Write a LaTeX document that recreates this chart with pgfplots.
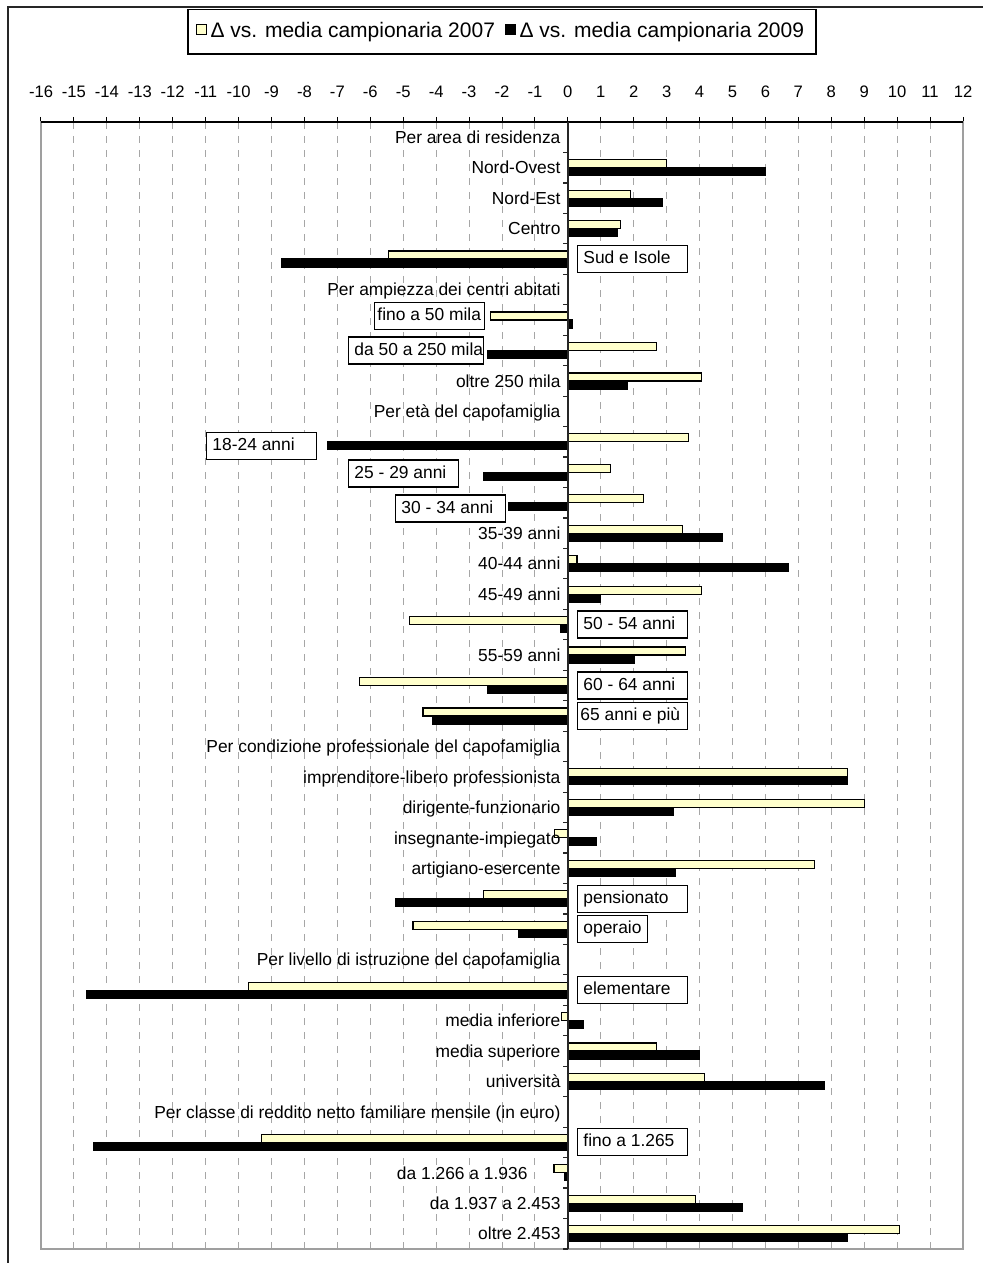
\documentclass[border=0pt]{standalone}
\usepackage{pgfplots}
\pgfplotsset{compat=1.18}
\usepackage{fontspec}
\setmainfont{Liberation Sans}
\definecolor{ycol}{RGB}{255,255,204}
\begin{document}
\begin{tikzpicture}[
  lab/.style={anchor=base east, inner sep=0pt, xshift=-3.5pt, yshift=-3.1pt, font=\fontsize{8.7}{10}\selectfont},
  bx/.style={draw=black, line width=0.6pt, fill=white, inner xsep=3pt, inner ysep=0pt,
    minimum height=13.5pt, text height=6.3pt, text depth=1.7pt, anchor=west, font=\fontsize{8.7}{10}\selectfont},
]
\useasboundingbox (0,0) rectangle (491pt,-631.5pt);
\draw[line width=0.75pt, black!85] (4pt,-640pt) -- (4pt,-3.5pt) -- (500pt,-3.5pt);
\begin{axis}[
  at={(20.5pt,-61pt)}, anchor=north west,
  scale only axis, width=461pt, height=563.5pt,
  xmin=-16, xmax=12, ymin=0.5, ymax=37.5,
  xtick={-16,-15,...,12}, ytick=\empty,
  xtick pos=right, xticklabel pos=right,
  tick align=outside, major tick length=2.5pt,
  tick style={black, line width=0.5pt},
  xticklabel style={font=\fontsize{8.3}{9}\selectfont, yshift=6pt},
  /pgf/number format/assume math mode=true,
  xmajorgrids, grid style={gray!70, line width=0.5pt, dash pattern=on 3.5pt off 3.5pt},
  axis line style={draw=gray!75, line width=0.8pt},
  clip=false,
  xbar, bar width=4pt,
  legend columns=2,
  legend style={at={(0.5,1.08)}, anchor=center, draw=black, line width=0.6pt,
    font=\fontsize{10.5}{12}\selectfont, inner xsep=4pt, inner ysep=4.5pt,
    /tikz/every even column/.append style={column sep=3pt}},
]
\addplot[fill=ycol, draw=black, line width=0.6pt, bar shift=2pt,
  legend image code/.code={\draw[fill=ycol, draw=black, line width=0.5pt] (0pt,-1.2pt) rectangle (4.8pt,3.6pt);}]
  coordinates {
  (3.0,36) (1.9,35) (1.6,34) (-5.45,33)
  (-2.35,31) (2.68,30) (4.05,29)
  (3.67,27) (1.3,26) (2.3,25) (3.48,24) (0.28,23) (4.05,22) (-4.8,21) (3.57,20) (-6.32,19) (-4.4,18)
  (8.5,16) (9.0,15) (-0.4,14) (7.5,13) (-2.55,12) (-4.7,11)
  (-9.7,9) (-0.2,8) (2.7,7) (4.15,6)
  (-9.3,4) (-0.42,3) (3.87,2) (10.08,1)
  };
\addplot[fill=black, draw=black, line width=0.6pt, bar shift=-2pt,
  legend image code/.code={\draw[fill=black, draw=black, line width=0.5pt] (0pt,-1.2pt) rectangle (4.8pt,3.6pt);}]
  coordinates {
  (6.0,36) (2.88,35) (1.5,34) (-8.7,33)
  (0.15,31) (-2.43,30) (1.82,29)
  (-7.3,27) (-2.55,26) (-1.8,25) (4.7,24) (6.7,23) (0.98,22) (-0.23,21) (2.02,20) (-2.44,19) (-4.12,18)
  (8.5,16) (3.2,15) (0.87,14) (3.28,13) (-5.24,12) (-1.5,11)
  (-14.6,9) (0.47,8) (4.0,7) (7.8,6)
  (-14.4,4) (-0.11,3) (5.3,2) (8.5,1)
  };
\legend{Δ vs. media campionaria 2007, Δ vs. media campionaria 2009}
% top axis line and y axis at zero
\draw[black, line width=0.8pt] (rel axis cs:0,1) -- (rel axis cs:1,1);
\draw[black!85, line width=0.8pt] (axis cs:0,0.5) -- (axis cs:0,37.5);
\pgfplotsinvokeforeach{1,...,37}{
  \draw[black!85, line width=0.6pt] (axis cs:0,#1-0.5) -- ++(-2.2pt,0pt);
}
% plain labels
\node[lab] at (axis cs:0,37) {Per area di residenza};
\node[lab] at (axis cs:0,36) {Nord-Ovest};
\node[lab] at (axis cs:0,35) {Nord-Est};
\node[lab] at (axis cs:0,34) {Centro};
\node[lab] at (axis cs:0,32) {Per ampiezza dei centri abitati};
\node[lab] at (axis cs:0,29) {oltre 250 mila};
\node[lab] at (axis cs:0,28) {Per età del capofamiglia};
\node[lab] at (axis cs:0,24) {35-39 anni};
\node[lab] at (axis cs:0,23) {40-44 anni};
\node[lab] at (axis cs:0,22) {45-49 anni};
\node[lab] at (axis cs:0,20) {55-59 anni};
\node[lab] at (axis cs:0,17) {Per condizione professionale del capofamiglia};
\node[lab] at (axis cs:0,16) {imprenditore-libero professionista};
\node[lab] at (axis cs:0,15) {dirigente-funzionario};
\node[lab] at (axis cs:0,14) {insegnante-impiegato};
\node[lab] at (axis cs:0,13) {artigiano-esercente};
\node[lab] at (axis cs:0,10) {Per livello di istruzione del capofamiglia};
\node[lab] at (axis cs:0,8) {media inferiore};
\node[lab] at (axis cs:0,7) {media superiore};
\node[lab] at (axis cs:0,6) {università};
\node[lab] at (axis cs:0,5) {Per classe di reddito netto familiare mensile (in euro)};
\node[lab] at (axis cs:-1.0,3) {da 1.266 a 1.936};
\node[lab] at (axis cs:0,2) {da 1.937 a 2.453};
\node[lab] at (axis cs:0,1) {oltre 2.453};
% boxed labels, right side
\node[bx] at (axis cs:0.273,33) {\makebox[49pt][l]{Sud e Isole}};
\node[bx] at (axis cs:0.273,21) {\makebox[49pt][l]{50 - 54 anni}};
\node[bx] at (axis cs:0.273,19) {\makebox[49pt][l]{60 - 64 anni}};
\node[bx, inner xsep=1.5pt] at (axis cs:0.273,18) {\makebox[52pt][l]{65 anni e più}};
\node[bx] at (axis cs:0.273,12) {\makebox[49pt][l]{pensionato}};
\node[bx] at (axis cs:0.273,11) {\makebox[29pt][l]{operaio}};
\node[bx] at (axis cs:0.273,9) {\makebox[49pt][l]{elementare}};
\node[bx] at (axis cs:0.273,4) {\makebox[49pt][l]{fino a 1.265}};
% boxed labels, left side
\node[bx, inner xsep=1.5pt] at (axis cs:-5.891,31.14) {\makebox[52pt][l]{fino a 50 mila}};
\node[bx] at (axis cs:-6.681,30) {\makebox[61.5pt][l]{da 50 a 250 mila}};
\node[bx] at (axis cs:-10.993,26.85) {\makebox[49pt][l]{18-24 anni}};
\node[bx] at (axis cs:-6.681,25.96) {\makebox[49pt][l]{25 - 29 anni}};
\node[bx] at (axis cs:-5.254,24.81) {\makebox[49pt][l]{30 - 34 anni}};
\end{axis}
\end{tikzpicture}
\end{document}
